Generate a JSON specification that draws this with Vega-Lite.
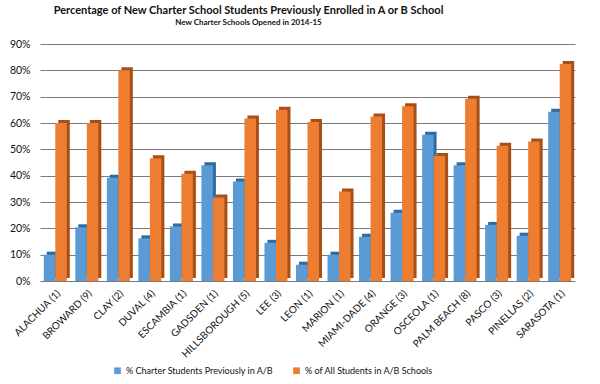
{
  "$schema": "https://vega.github.io/schema/vega-lite/v6.json",
  "autosize": {"type": "none"},
  "width": 535,
  "height": 237,
  "padding": {"left": 40, "top": 44, "right": 25, "bottom": 103},
  "background": "white",
  "config": {"font": "Lato", "view": {"stroke": null}},
  "title": {
    "text": "Percentage of  New Charter School Students Previously Enrolled in A or B School",
    "subtitle": "New Charter Schools Opened in 2014-15",
    "anchor": "middle",
    "dx": -59,
    "offset": 12,
    "fontSize": 11,
    "fontWeight": "bold",
    "color": "#111",
    "subtitleFontSize": 8,
    "subtitleFontWeight": "bold",
    "subtitleColor": "#111",
    "subtitlePadding": 3
  },
  "data": {"values": [
    {"county": "ALACHUA (1)", "series": "% Charter Students Previously in A/B", "value": 0.10},
    {"county": "ALACHUA (1)", "series": "% of All Students in A/B Schools", "value": 0.60},
    {"county": "BROWARD (9)", "series": "% Charter Students Previously in A/B", "value": 0.204},
    {"county": "BROWARD (9)", "series": "% of All Students in A/B Schools", "value": 0.60},
    {"county": "CLAY (2)", "series": "% Charter Students Previously in A/B", "value": 0.392},
    {"county": "CLAY (2)", "series": "% of All Students in A/B Schools", "value": 0.80},
    {"county": "DUVAL (4)", "series": "% Charter Students Previously in A/B", "value": 0.162},
    {"county": "DUVAL (4)", "series": "% of All Students in A/B Schools", "value": 0.466},
    {"county": "ESCAMBIA (1)", "series": "% Charter Students Previously in A/B", "value": 0.207},
    {"county": "ESCAMBIA (1)", "series": "% of All Students in A/B Schools", "value": 0.407},
    {"county": "GADSDEN (1)", "series": "% Charter Students Previously in A/B", "value": 0.44},
    {"county": "GADSDEN (1)", "series": "% of All Students in A/B Schools", "value": 0.317},
    {"county": "HILLSBOROUGH (5)", "series": "% Charter Students Previously in A/B", "value": 0.378},
    {"county": "HILLSBOROUGH (5)", "series": "% of All Students in A/B Schools", "value": 0.617},
    {"county": "LEE (3)", "series": "% Charter Students Previously in A/B", "value": 0.145},
    {"county": "LEE (3)", "series": "% of All Students in A/B Schools", "value": 0.65},
    {"county": "LEON (1)", "series": "% Charter Students Previously in A/B", "value": 0.062},
    {"county": "LEON (1)", "series": "% of All Students in A/B Schools", "value": 0.604},
    {"county": "MARION (1)", "series": "% Charter Students Previously in A/B", "value": 0.10},
    {"county": "MARION (1)", "series": "% of All Students in A/B Schools", "value": 0.34},
    {"county": "MIAMI-DADE (4)", "series": "% Charter Students Previously in A/B", "value": 0.168},
    {"county": "MIAMI-DADE (4)", "series": "% of All Students in A/B Schools", "value": 0.625},
    {"county": "ORANGE (3)", "series": "% Charter Students Previously in A/B", "value": 0.259},
    {"county": "ORANGE (3)", "series": "% of All Students in A/B Schools", "value": 0.664},
    {"county": "OSCEOLA (1)", "series": "% Charter Students Previously in A/B", "value": 0.555},
    {"county": "OSCEOLA (1)", "series": "% of All Students in A/B Schools", "value": 0.475},
    {"county": "PALM BEACH (8)", "series": "% Charter Students Previously in A/B", "value": 0.44},
    {"county": "PALM BEACH (8)", "series": "% of All Students in A/B Schools", "value": 0.692},
    {"county": "PASCO (3)", "series": "% Charter Students Previously in A/B", "value": 0.213},
    {"county": "PASCO (3)", "series": "% of All Students in A/B Schools", "value": 0.514},
    {"county": "PINELLAS (2)", "series": "% Charter Students Previously in A/B", "value": 0.172},
    {"county": "PINELLAS (2)", "series": "% of All Students in A/B Schools", "value": 0.53},
    {"county": "SARASOTA (1)", "series": "% Charter Students Previously in A/B", "value": 0.643},
    {"county": "SARASOTA (1)", "series": "% of All Students in A/B Schools", "value": 0.824}
  ]},
  "encoding": {
    "x": {
      "field": "county", "type": "nominal", "sort": null,
      "scale": {"paddingInner": 0.27, "paddingOuter": 0.12},
      "axis": {"title": null, "labelAngle": -45, "labelFontSize": 10, "labelColor": "#111", "ticks": false, "domain": false, "labelPadding": 7}
    },
    "y": {
      "field": "value", "type": "quantitative",
      "scale": {"domain": [0, 0.9]},
      "axis": {"title": null, "format": ".0%", "values": [0,0.1,0.2,0.3,0.4,0.5,0.6,0.7,0.8,0.9], "grid": true, "gridColor": "#7a7a7a", "gridWidth": 1, "domain": false, "ticks": false, "labelFontSize": 10.5, "labelColor": "#111", "labelPadding": 10}
    }
  },
  "layer": [
    {
      "mark": {"type": "bar", "yOffset": -3},
      "encoding": {
        "xOffset": {"field": "series", "type": "nominal", "sort": null, "scale": {"range": [3, 26]}},
        "color": {"field": "series", "type": "nominal", "sort": null, "scale": {"range": ["#2f6aa0", "#a84f17"]}, "legend": null}
      }
    },
    {
      "mark": {"type": "bar"},
      "encoding": {
        "xOffset": {"field": "series", "type": "nominal", "sort": null, "scale": {"range": [0, 23]}},
        "color": {
          "field": "series", "type": "nominal", "sort": null,
          "scale": {"range": ["#5B9BD5", "#ED7D31"]},
          "legend": {"title": null, "orient": "none", "legendX": 73, "legendY": 322, "direction": "horizontal", "symbolType": "square", "symbolSize": 45, "labelFontSize": 9, "labelColor": "#111", "labelLimit": 400, "columnPadding": 18, "symbolStrokeWidth": 0}
        }
      }
    }
  ],
  "resolve": {"scale": {"color": "independent", "xOffset": "independent"}}
}
